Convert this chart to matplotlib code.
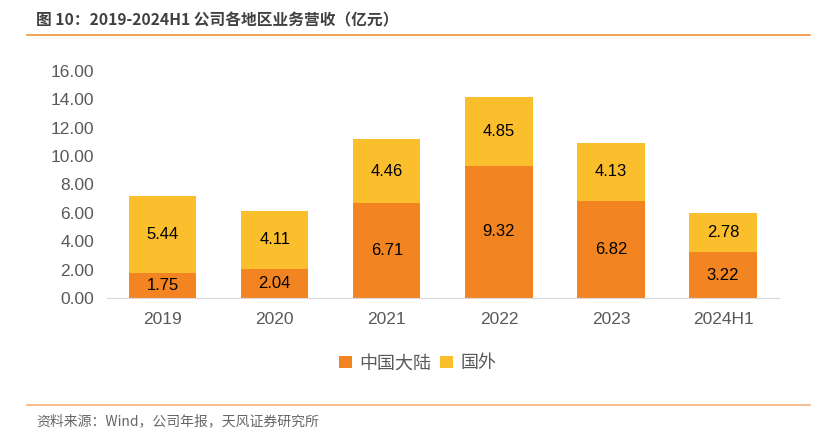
import matplotlib
matplotlib.use("Agg")
import matplotlib.pyplot as plt
from matplotlib.lines import Line2D

plt.rcParams['font.family'] = ['Liberation Sans', 'Noto Sans CJK SC', 'DejaVu Sans']

years = ["2019", "2020", "2021", "2022", "2023", "2024H1"]
mainland = [1.75, 2.04, 6.71, 9.32, 6.82, 3.22]
overseas = [5.44, 4.11, 4.46, 4.85, 4.13, 2.78]

c_main = "#F28522"
c_over = "#FBBE2D"

fig = plt.figure(figsize=(8.27, 4.47), dpi=100)
ax = fig.add_axes([0.129, 0.3333, 0.813, 0.508])

x = list(range(len(years)))
b1 = ax.bar(x, mainland, width=0.6, color=c_main, label="中国大陆")
b2 = ax.bar(x, overseas, width=0.6, bottom=mainland, color=c_over, label="国外")

for i in x:
    ax.text(i, mainland[i] / 2, f"{mainland[i]:.2f}", ha="center", va="center",
            fontsize=12, color="black")
    ax.text(i, mainland[i] + overseas[i] / 2, f"{overseas[i]:.2f}", ha="center",
            va="center", fontsize=12, color="black")

ax.set_xlim(-0.5, len(years) - 0.5)
ax.set_ylim(0, 16)
ax.set_yticks(range(0, 17, 2))
ax.set_yticklabels([f"{v:.2f}" for v in range(0, 17, 2)])
ax.set_xticks(x)
ax.set_xticklabels(years)
ax.tick_params(axis="both", length=0, labelsize=12.5, labelcolor="#595959")
ax.tick_params(axis="x", pad=10)
ax.tick_params(axis="y", pad=9)
for s in ["top", "right", "left"]:
    ax.spines[s].set_visible(False)
ax.spines["bottom"].set_color("#D9D9D9")

fig.legend(handles=[b1, b2], loc="center", bbox_to_anchor=(0.505, 0.187), ncol=2,
           frameon=False, handlelength=0.7, handleheight=0.7,
           handletextpad=0.4, columnspacing=0.5, labelcolor="#595959",
           prop={"family": ["Noto Sans CJK SC"], "size": 13})

fig.text(0.044, 0.955, "图 10：2019-2024H1 公司各地区业务营收（亿元）", fontsize=11.3,
         fontweight="bold", color="#404040", va="center",
         family=["Noto Sans CJK SC", "DejaVu Sans"])
fig.add_artist(Line2D([0.033, 0.98], [0.921, 0.921], color="#F0913A", lw=1.2))
fig.add_artist(Line2D([0.033, 0.98], [0.094, 0.094], color="#F7B07A", lw=1.2))
fig.text(0.044, 0.058, "资料来源：Wind，公司年报，天风证券研究所", fontsize=10,
         color="#666666", va="center", family=["Noto Sans CJK SC", "DejaVu Sans"])

fig.savefig("out.png", dpi=100)
